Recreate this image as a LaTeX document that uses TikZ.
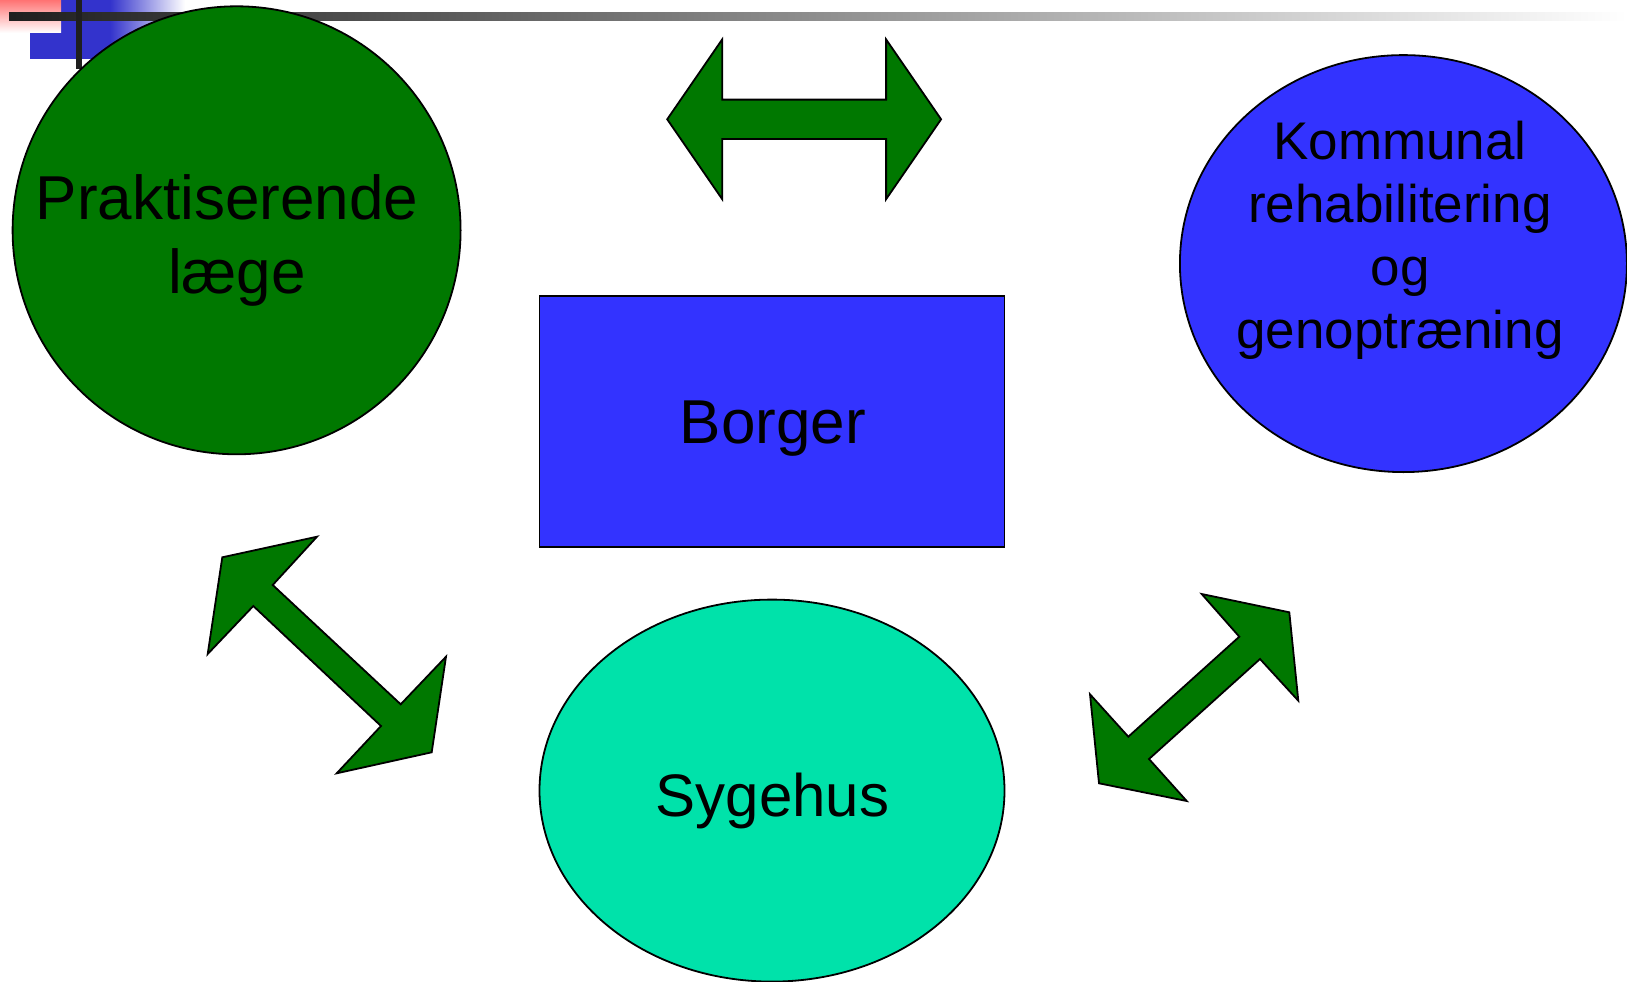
\documentclass[tikz,border=0pt]{standalone}
\usepackage{fontspec}
\setmainfont{Liberation Sans}
\usetikzlibrary{shapes,positioning}
\definecolor{pilgroen}{RGB}{0,120,0}
\definecolor{borgerblaa}{RGB}{51,51,255}
\definecolor{sygehusgroen}{RGB}{0,226,170}
\definecolor{pynteblaa}{RGB}{51,51,204}
\definecolor{pynterosa}{RGB}{255,115,115}

\begin{document}
\begin{tikzpicture}[
    x=1pt, y=-1pt,
    felt/.style ={
        draw=black,
        line width=1.8pt,
        inner sep=0pt,
    },
    rund/.style ={felt, ellipse},
    pil/.style ={
        fill=pilgroen,
        draw=black,
        line width=1.8pt,
        line join=miter,
    },
    tekst/.style ={
        align=center,
        font=\fontsize{62}{74}\selectfont,
    }
    ]
    \useasboundingbox (0,0) rectangle (1627,982);
    % pynt i hjoernet
    \fill[pynteblaa] (30,0) rectangle (110,59);
    \shade[left color=pynteblaa, right color=white] (110,0) rectangle (185,59);
    \shade[shading angle=-45, top color=pynterosa, bottom color=white] (0,0) rectangle (61,33);
    \shade[left color=black!88, right color=white] (9,13) rectangle (1627,21);
    \fill[black!88] (76,0) rectangle (82,69);

    \node[felt, circle, fill=pilgroen, minimum size=448pt] (laege) at (236.6,230.3) {};
    \node[felt, rectangle, fill=borgerblaa, minimum width=465pt, minimum height=251pt] (borger) at (772,421.3) {};
    \node[rund, fill=borgerblaa, minimum width=447pt, minimum height=417pt] (kommune) at (1403.4,263.6) {};
    \node[rund, fill=sygehusgroen, minimum width=465pt, minimum height=382pt] (sygehus) at (772,790.6) {};

    \node[tekst] (laege-tekst) at (227,240) {Praktiserende\\\hspace*{20pt}læge};
    \node[tekst] (borger-tekst) at (773,429) {Borger};
    \node[tekst, font=\fontsize{60}{72}\selectfont] (sygehus-tekst) at (772.5,801) {Sygehus};
    \node[tekst, font=\fontsize{53}{63}\selectfont] (kommune-tekst) at (1400,240) {Kommunal\\rehabilitering\\og\\genoptræning};

    % pile
    \draw[pil] (667.2,119.3) -- (722.2,39.4) -- (722.2,99.6) -- (886.1,99.6) -- (886.1,39.4)
        -- (941.1,119.3) -- (886.1,199.2) -- (886.1,139) -- (722.2,139) -- (722.2,199.2) -- cycle;
    \draw[pil] (222.3,557.3) -- (317,536.7) -- (272.7,585) -- (400.7,704.3) -- (446,656.7)
        -- (431.7,752.3) -- (336.7,773.3) -- (381,726) -- (253.3,606) -- (207.7,654) -- cycle;
    \draw[pil] (1289.3,612.3) -- (1201.7,594) -- (1239.3,636.7) -- (1128.3,736.7) -- (1090,694.3)
        -- (1099,783.3) -- (1186.7,801) -- (1149,759) -- (1260,659) -- (1298.3,700.7) -- cycle;
\end{tikzpicture}
\end{document}
